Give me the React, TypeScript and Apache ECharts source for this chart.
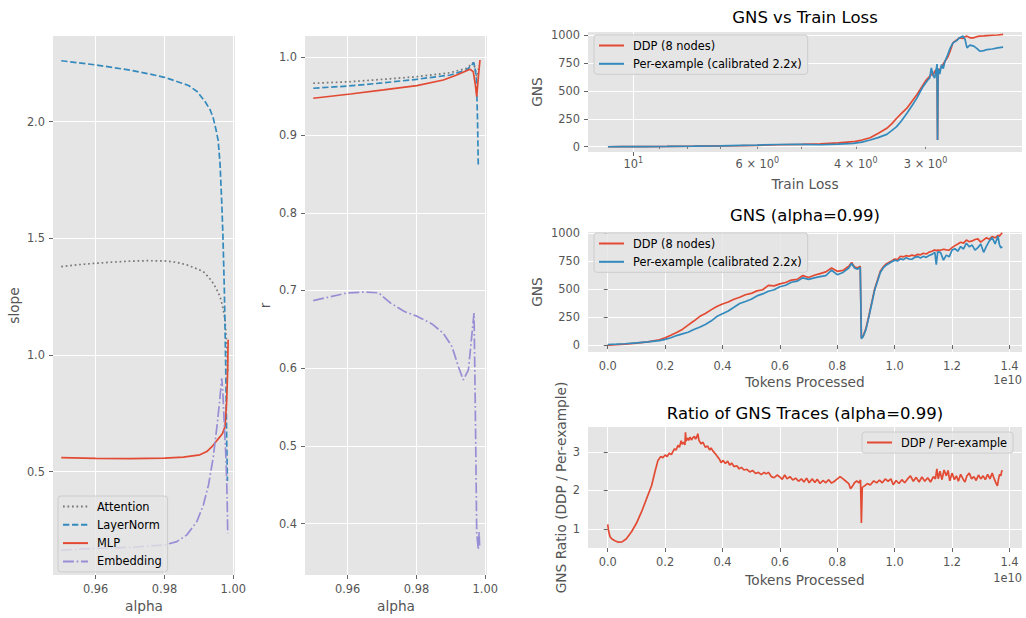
import React, { useEffect, useRef } from "react";
import * as echarts from "echarts";

const FONT = "DejaVu Sans";
const RED = "#E24A33";
const BLUE = "#348ABD";
const PURPLE = "#988ED5";
const GRAY = "#777777";
const LW = 1.7;

// ---------- Panel 1: slope vs alpha ----------
const attnAlpha = [0.95, 0.955, 0.96, 0.965, 0.97, 0.975, 0.98, 0.9835, 0.9865, 0.989, 0.9913, 0.9928, 0.9942, 0.9952, 0.99615, 0.9967, 0.9971, 0.9976, 0.9981, 0.9984];
const attnSlope = [1.379, 1.387, 1.393, 1.398, 1.402, 1.404, 1.403, 1.397, 1.386, 1.372, 1.357, 1.334, 1.307, 1.28, 1.25, 1.22, 1.193, 1.15, 1.05, 0.92];
const lnAlpha = [0.95, 0.955, 0.96, 0.965, 0.97, 0.975, 0.98, 0.984, 0.987, 0.9895, 0.9918, 0.9933, 0.9942, 0.995, 0.9956, 0.99615, 0.9967, 0.997, 0.9974, 0.9978, 0.9981, 0.9983];
const lnSlope = [2.261, 2.252, 2.243, 2.232, 2.221, 2.206, 2.19, 2.17, 2.155, 2.129, 2.086, 2.05, 2.014, 1.964, 1.92, 1.82, 1.636, 1.507, 1.28, 0.95, 0.62, 0.46];
const mlpAlpha = [0.95, 0.96, 0.97, 0.98, 0.9855, 0.9903, 0.9923, 0.9938, 0.995, 0.99615, 0.9969, 0.9976, 0.9981, 0.99838, 0.9985];
const mlpSlope = [0.56, 0.557, 0.556, 0.558, 0.562, 0.572, 0.586, 0.607, 0.629, 0.65, 0.665, 0.693, 0.807, 0.95, 1.065];
const embAlpha = [0.95, 0.96, 0.971, 0.98, 0.9836, 0.9865, 0.9894, 0.9913, 0.9928, 0.9942, 0.99536, 0.99615, 0.99664, 0.99693, 0.9974, 0.99789, 0.9982, 0.99838];
const embSlope = [0.164, 0.171, 0.176, 0.186, 0.2, 0.229, 0.286, 0.357, 0.443, 0.564, 0.707, 0.821, 0.9, 0.85, 0.7, 0.55, 0.4, 0.236];

// ---------- Panel 2: r vs alpha ----------
const attnRAlpha = [0.95, 0.9608, 0.9704, 0.9801, 0.9898, 0.9946, 0.99652, 0.9971, 0.9975, 0.9979, 0.9982];
const attnR = [0.9666, 0.9686, 0.9717, 0.9751, 0.9802, 0.9859, 0.9931, 0.985, 0.975, 0.98, 0.99];
const lnRAlpha = [0.95, 0.96, 0.97, 0.98, 0.9898, 0.9946, 0.9967, 0.9974, 0.99775, 0.99797];
const lnR = [0.9602, 0.963, 0.967, 0.9717, 0.9772, 0.9837, 0.9931, 0.975, 0.919, 0.8594];
const mlpRAlpha = [0.95, 0.9608, 0.9704, 0.9801, 0.9878, 0.9917, 0.99557, 0.9965, 0.9971, 0.99751, 0.998, 0.99846];
const mlpR = [0.9473, 0.9528, 0.958, 0.9635, 0.9708, 0.9772, 0.9846, 0.9815, 0.965, 0.9494, 0.975, 0.9965];
const embRAlpha = [0.95, 0.955, 0.96, 0.965, 0.969, 0.9724, 0.9765, 0.9801, 0.9845, 0.9878, 0.9903, 0.9922, 0.9936, 0.9951, 0.99673, 0.9971, 0.99751, 0.99797, 0.9982, 0.99835];
const embR = [0.687, 0.692, 0.697, 0.698, 0.697, 0.684, 0.673, 0.667, 0.657, 0.645, 0.628, 0.602, 0.585, 0.598, 0.671, 0.55, 0.388, 0.367, 0.39, 0.372];

// ---------- Panel 3: GNS vs train loss ----------
const loss3 = [11.1, 10.5, 9.6, 8.7, 7.8, 7.0, 6.4, 6.0, 5.5, 5.0, 4.63, 4.3, 4.04, 3.9, 3.77, 3.65, 3.52, 3.45, 3.38, 3.31, 3.24, 3.18, 3.11, 3.07, 3.03, 3.0, 2.97, 2.95, 2.93, 2.91, 2.89, 2.87, 2.862, 2.856, 2.85, 2.83, 2.81, 2.79, 2.77, 2.74, 2.71, 2.68, 2.64, 2.61, 2.57, 2.55, 2.53, 2.5, 2.46, 2.43, 2.4, 2.36, 2.33, 2.28, 2.23, 2.18];
const ddp3 = [0, 1, 2, 3, 5, 8, 10, 12, 18, 22, 26, 35, 45, 60, 81, 118, 165, 205, 255, 300, 345, 400, 465, 510, 555, 590, 615, 630, 650, 640, 675, 690, 670, 60, 640, 690, 716, 740, 765, 800, 860, 930, 955, 975, 970, 985, 990, 975, 975, 985, 990, 992, 995, 998, 1000, 1005];
const pex3 = [0, 1, 2, 3, 5, 8, 12, 15, 20, 22, 18, 24, 30, 42, 60, 82, 111, 145, 180, 235, 300, 360, 435, 490, 540, 570, 600, 615, 705, 640, 615, 700, 740, 60, 700, 650, 735, 700, 765, 820, 885, 930, 950, 975, 990, 960, 885, 910, 900, 880, 855, 860, 870, 875, 885, 891];
const lossTicksMajor = [10];
const lossTicksMinor = [9, 8, 7, 6, 5, 4, 3];
const lossLabels = [10, 6, 4, 3];

// ---------- Panel 4: GNS vs tokens (x 1e10) ----------
const tokens4 = [0, 0.03, 0.06, 0.1, 0.14, 0.18, 0.2, 0.22, 0.24, 0.26, 0.28, 0.3, 0.32, 0.34, 0.36, 0.38, 0.4, 0.42, 0.44, 0.46, 0.48, 0.5, 0.52, 0.54, 0.56, 0.58, 0.6, 0.62, 0.64, 0.66, 0.68, 0.7, 0.72, 0.74, 0.76, 0.78, 0.8, 0.82, 0.84, 0.85, 0.86, 0.87, 0.88, 0.884, 0.89, 0.9, 0.91, 0.92, 0.93, 0.94, 0.95, 0.96, 0.97, 0.98, 0.99, 1.0, 1.01, 1.02, 1.03, 1.04, 1.05, 1.06, 1.07, 1.08, 1.09, 1.1, 1.11, 1.12, 1.13, 1.14, 1.145, 1.15, 1.16, 1.17, 1.18, 1.19, 1.2, 1.21, 1.22, 1.23, 1.24, 1.25, 1.26, 1.27, 1.28, 1.29, 1.3, 1.31, 1.32, 1.33, 1.34, 1.35, 1.36, 1.365, 1.37, 1.375];
const ddp4 = [0, 3, 8, 18, 28, 48, 66, 88, 112, 140, 178, 215, 255, 282, 315, 345, 368, 385, 410, 428, 450, 462, 485, 495, 535, 530, 548, 560, 582, 588, 622, 605, 625, 640, 655, 690, 660, 668, 705, 740, 700, 690, 705, 66, 80, 150, 260, 380, 500, 580, 660, 700, 725, 740, 752, 770, 765, 795, 790, 800, 795, 805, 798, 812, 808, 822, 815, 832, 840, 852, 845, 850, 848, 858, 852, 850, 872, 890, 905, 920, 912, 940, 925, 932, 945, 950, 922, 942, 960, 948, 972, 960, 982, 975, 992, 1005];
const pex4 = [5, 8, 12, 20, 28, 40, 51, 66, 85, 100, 115, 140, 160, 185, 215, 255, 280, 305, 338, 372, 390, 410, 440, 458, 482, 495, 522, 535, 562, 572, 602, 588, 602, 612, 622, 670, 630, 650, 690, 730, 690, 680, 695, 57, 75, 140, 250, 370, 490, 570, 650, 690, 715, 730, 745, 760, 752, 772, 765, 782, 770, 768, 785, 792, 780, 795, 785, 802, 812, 830, 720, 835, 828, 760, 805, 790, 850, 862, 840, 882, 860, 912, 880, 895, 850, 872, 905, 830, 885, 932, 962, 905, 975, 900, 870, 882];

// ---------- Panel 5: ratio ----------
const tokens5 = [0, 0.003, 0.008, 0.015, 0.025, 0.037, 0.05, 0.065, 0.083, 0.1, 0.118, 0.135, 0.153, 0.165, 0.175, 0.185, 0.192, 0.2, 0.207, 0.215, 0.222, 0.228, 0.233, 0.238, 0.245, 0.25, 0.256, 0.26, 0.265, 0.269, 0.271, 0.273, 0.278, 0.282, 0.287, 0.292, 0.297, 0.302, 0.306, 0.31, 0.314, 0.318, 0.325, 0.332, 0.34, 0.348, 0.355, 0.36, 0.367, 0.375, 0.382, 0.39, 0.395, 0.402, 0.41, 0.418, 0.425, 0.432, 0.44, 0.45, 0.458, 0.466, 0.475, 0.485, 0.495, 0.505, 0.515, 0.525, 0.535, 0.545, 0.552, 0.56, 0.57, 0.58, 0.59, 0.6, 0.608, 0.617, 0.625, 0.635, 0.645, 0.655, 0.665, 0.675, 0.684, 0.693, 0.702, 0.712, 0.722, 0.73, 0.74, 0.75, 0.76, 0.77, 0.78, 0.79, 0.8, 0.81, 0.82, 0.83, 0.84, 0.846, 0.852, 0.86, 0.868, 0.875, 0.881, 0.884, 0.887, 0.895, 0.905, 0.915, 0.927, 0.937, 0.947, 0.957, 0.967, 0.977, 0.987, 0.995, 1.005, 1.015, 1.025, 1.035, 1.045, 1.055, 1.065, 1.075, 1.085, 1.095, 1.105, 1.115, 1.125, 1.135, 1.142, 1.147, 1.152, 1.158, 1.165, 1.172, 1.18, 1.186, 1.192, 1.2, 1.208, 1.215, 1.222, 1.23, 1.238, 1.245, 1.252, 1.26, 1.268, 1.276, 1.284, 1.292, 1.3, 1.308, 1.316, 1.324, 1.332, 1.34, 1.347, 1.354, 1.358, 1.362, 1.366, 1.37, 1.373, 1.376];
const ratio5 = [1.12, 0.95, 0.8, 0.74, 0.7, 0.66, 0.67, 0.75, 0.93, 1.15, 1.45, 1.78, 2.13, 2.5, 2.78, 2.88, 2.85, 2.92, 2.88, 2.97, 2.93, 3.02, 3.08, 3.05, 3.17, 3.12, 3.29, 3.2, 3.25, 3.18, 3.51, 3.28, 3.36, 3.3, 3.38, 3.31, 3.37, 3.4, 3.33, 3.38, 3.47, 3.3, 3.21, 3.25, 3.12, 3.15, 3.05, 3.1, 3.02, 2.95, 2.88, 2.8, 2.72, 2.78, 2.7, 2.76, 2.66, 2.71, 2.62, 2.64, 2.56, 2.6, 2.53, 2.55, 2.48, 2.52, 2.44, 2.47, 2.41, 2.47, 2.43, 2.47, 2.36, 2.33, 2.4, 2.35, 2.29, 2.4, 2.3, 2.36, 2.27, 2.32, 2.24, 2.3, 2.22, 2.32, 2.2, 2.3, 2.21, 2.29, 2.18, 2.26, 2.2, 2.28, 2.19, 2.24, 2.3, 2.36, 2.3, 2.24, 2.18, 2.05, 2.1, 2.2, 2.25, 2.2, 2.27, 1.16, 2.08, 2.12, 2.18, 2.14, 2.25, 2.2, 2.27, 2.2, 2.3, 2.24, 2.3, 2.15, 2.26, 2.18, 2.28, 2.2, 2.3, 2.38, 2.24, 2.34, 2.22, 2.35, 2.24, 2.33, 2.22, 2.36, 2.3, 2.56, 2.3, 2.5, 2.28, 2.53, 2.38, 2.52, 2.25, 2.45, 2.28, 2.38, 2.24, 2.42, 2.3, 2.22, 2.38, 2.45, 2.3, 2.36, 2.26, 2.4, 2.3, 2.38, 2.28, 2.42, 2.3, 2.45, 2.3, 2.18, 2.12, 2.3, 2.42, 2.38, 2.5, 2.52];

const alphaTicks = [0.96, 0.98, 1.0];
const slopeTicks = [0.5, 1.0, 1.5, 2.0];
const rTicks = [0.4, 0.5, 0.6, 0.7, 0.8, 0.9, 1.0];
const gnsTicks = [0, 250, 500, 750, 1000];
const tokenTicks = [0, 0.2, 0.4, 0.6, 0.8, 1.0, 1.2, 1.4];
const ratioTicks = [1, 2, 3];

const zip = (xs: number[], ys: number[]) => xs.map((x, i) => [x, ys[i]]);

const TICK = { show: true, length: 4, lineStyle: { color: "#555555", width: 0.9 } };
const LABEL = { color: "#555555", fontSize: 11.4, fontFamily: FONT, margin: 8 };
const NAME_STYLE = { color: "#555555", fontSize: 13.7, fontFamily: FONT };

function valAxis(gridIndex: number, min: number, max: number, ticks: number[], fmt: (v: number) => string, name: string, nameGap: number) {
  return {
    type: "value",
    gridIndex,
    min,
    max,
    name,
    nameLocation: "middle",
    nameGap,
    nameTextStyle: NAME_STYLE,
    axisLine: { show: false },
    axisTick: { ...TICK, customValues: ticks },
    axisLabel: { ...LABEL, customValues: ticks, formatter: fmt },
    splitLine: { show: true, lineStyle: { color: "#ffffff", width: 1 } },
  };
}

function line(name: string, data: number[][], color: string, xi: number, yi: number, type: any = "solid") {
  return {
    type: "line",
    name,
    data,
    xAxisIndex: xi,
    yAxisIndex: yi,
    symbol: "none",
    showSymbol: false,
    clip: true,
    lineStyle: { color, width: LW, type, cap: "butt" },
    itemStyle: { color },
    emphasis: { disabled: true },
  };
}

function legendBox(names: string[], left: number, top: number) {
  return {
    data: names,
    left,
    top,
    orient: "vertical",
    itemWidth: 25,
    itemHeight: 10,
    itemGap: 7.3,
    padding: [5, 6, 5, 4],
    selectedMode: false,
    backgroundColor: "rgba(229,229,229,0.8)",
    borderColor: "#CCCCCC",
    borderWidth: 1,
    borderRadius: 3,
    itemStyle: { color: "rgba(0,0,0,0)", borderColor: "rgba(0,0,0,0)", borderWidth: 0, opacity: 0 },
    textStyle: { color: "#000000", fontSize: 11.4, fontFamily: FONT, padding: [0, 0, 0, 4] },
  };
}

const fmt1 = (v: number) => v.toFixed(1);
const fmt2 = (v: number) => v.toFixed(2);
const fmt0 = (v: number) => String(Math.round(v));

const DOT = [1.7, 2.8];
const DASH = [6.3, 2.7];
const DASHDOT = [10.9, 2.7, 1.7, 2.7];

export default function App() {
  const ref = useRef<HTMLDivElement>(null);
  useEffect(() => {
    const chart = echarts.init(ref.current!, null, { renderer: "svg", width: 1026, height: 618 });
    const log10 = (v: number) => Math.log10(v);
    const logMin = log10(2.017);
    const logMax = log10(12.05);
    const option: any = {
      animation: false,
      backgroundColor: "#ffffff",
      textStyle: { fontFamily: FONT },
      grid: [
        { left: 53, top: 36, width: 182, height: 539, show: true, backgroundColor: "#E5E5E5", borderWidth: 0 },
        { left: 305, top: 36, width: 182, height: 539, show: true, backgroundColor: "#E5E5E5", borderWidth: 0 },
        { left: 588, top: 32, width: 434, height: 120, show: true, backgroundColor: "#E5E5E5", borderWidth: 0 },
        { left: 588, top: 232, width: 434, height: 120, show: true, backgroundColor: "#E5E5E5", borderWidth: 0 },
        { left: 588, top: 427, width: 434, height: 121, show: true, backgroundColor: "#E5E5E5", borderWidth: 0 },
      ],
      xAxis: [
        valAxis(0, 0.9476, 1.0005, alphaTicks, fmt2, "alpha", 24),
        valAxis(1, 0.9476, 1.0005, alphaTicks, fmt2, "alpha", 24),
        {
          type: "value",
          gridIndex: 2,
          position: "bottom",
          inverse: true,
          min: logMin,
          max: logMax,
          name: "Train Loss",
          nameLocation: "middle",
          nameGap: 24.5,
          nameTextStyle: NAME_STYLE,
          axisLine: { show: false },
          axisTick: { show: true, length: 2.3, lineStyle: { color: "#555555", width: 0.7 }, customValues: lossTicksMinor.map(log10) },
          axisLabel: {
            ...LABEL,
            margin: 4,
            lineHeight: 16,
            customValues: lossLabels.map(log10),
            formatter: (v: number) => {
              const L = Math.round(Math.pow(10, v));
              return L === 10 ? "10{sup|1}" : L + " × 10{sup|0}";
            },
            rich: { sup: { fontSize: 8, lineHeight: 8, verticalAlign: "top", color: "#555555", fontFamily: FONT } },
          },
          splitLine: { show: false },
        },
        {
          type: "value",
          gridIndex: 2,
          position: "bottom",
          inverse: true,
          min: logMin,
          max: logMax,
          axisLine: { show: false },
          axisTick: { ...TICK, customValues: lossTicksMajor.map(log10) },
          axisLabel: { show: false, customValues: lossTicksMajor.map(log10) },
          splitLine: { show: true, lineStyle: { color: "#ffffff", width: 1 } },
        },
        valAxis(3, -0.06875, 1.44375, tokenTicks, fmt1, "Tokens Processed", 23),
        valAxis(4, -0.06875, 1.44375, tokenTicks, fmt1, "Tokens Processed", 25),
      ],
      yAxis: [
        valAxis(0, 0.057, 2.367, slopeTicks, fmt1, "slope", 32),
        valAxis(1, 0.334, 1.0274, rTicks, fmt1, "r", 33),
        valAxis(2, -47, 1027, gnsTicks, fmt0, "GNS", 44),
        valAxis(3, -62, 1012, gnsTicks, fmt0, "GNS", 44),
        valAxis(4, 0.51, 3.645, ratioTicks, fmt0, "GNS Ratio (DDP / Per-example)", 20.5),
      ],
      legend: [
        legendBox(["Attention", "LayerNorm", "MLP", "Embedding"], 58, 496),
        legendBox(["DDP (8 nodes)", "Per-example (calibrated 2.2x)"], 594, 35),
        legendBox(["DDP (8 nodes)", "Per-example (calibrated 2.2x)"], 594, 233),
        legendBox(["DDP / Per-example"], 862, 432),
      ],
      series: [
        line("Attention", zip(attnAlpha, attnSlope), GRAY, 0, 0, DOT),
        line("LayerNorm", zip(lnAlpha, lnSlope), BLUE, 0, 0, DASH),
        line("MLP", zip(mlpAlpha, mlpSlope), RED, 0, 0),
        line("Embedding", zip(embAlpha, embSlope), PURPLE, 0, 0, DASHDOT),
        line("Attention", zip(attnRAlpha, attnR), GRAY, 1, 1, DOT),
        line("LayerNorm", zip(lnRAlpha, lnR), BLUE, 1, 1, DASH),
        line("MLP", zip(mlpRAlpha, mlpR), RED, 1, 1),
        line("Embedding", zip(embRAlpha, embR), PURPLE, 1, 1, DASHDOT),
        line("DDP (8 nodes)", loss3.map((l, i) => [log10(l), ddp3[i]]), RED, 2, 2),
        line("Per-example (calibrated 2.2x)", loss3.map((l, i) => [log10(l), pex3[i]]), BLUE, 2, 2),
        line("DDP (8 nodes)", zip(tokens4, ddp4), RED, 4, 3),
        line("Per-example (calibrated 2.2x)", zip(tokens4, pex4), BLUE, 4, 3),
        line("DDP / Per-example", zip(tokens5, ratio5), RED, 5, 4),
      ],
      graphic: [
        { type: "text", x: 805, y: 17, style: { text: "GNS vs Train Loss", fontSize: 16.5, fontFamily: FONT, fill: "#000", align: "center", verticalAlign: "middle" } },
        { type: "text", x: 805, y: 215, style: { text: "GNS (alpha=0.99)", fontSize: 16.5, fontFamily: FONT, fill: "#000", align: "center", verticalAlign: "middle" } },
        { type: "text", x: 805, y: 413, style: { text: "Ratio of GNS Traces (alpha=0.99)", fontSize: 16.5, fontFamily: FONT, fill: "#000", align: "center", verticalAlign: "middle" } },
        { type: "text", x: 1022, y: 380, style: { text: "1e10", fontSize: 11.4, fontFamily: FONT, fill: "#555555", align: "right", verticalAlign: "middle" } },
        { type: "text", x: 1022, y: 578, style: { text: "1e10", fontSize: 11.4, fontFamily: FONT, fill: "#555555", align: "right", verticalAlign: "middle" } },
      ],
    };
    chart.setOption(option);
    return () => chart.dispose();
  }, []);
  return <div ref={ref} style={{ position: "fixed", left: 0, top: 0, width: 1026, height: 618, background: "#fff" }} />;
}
